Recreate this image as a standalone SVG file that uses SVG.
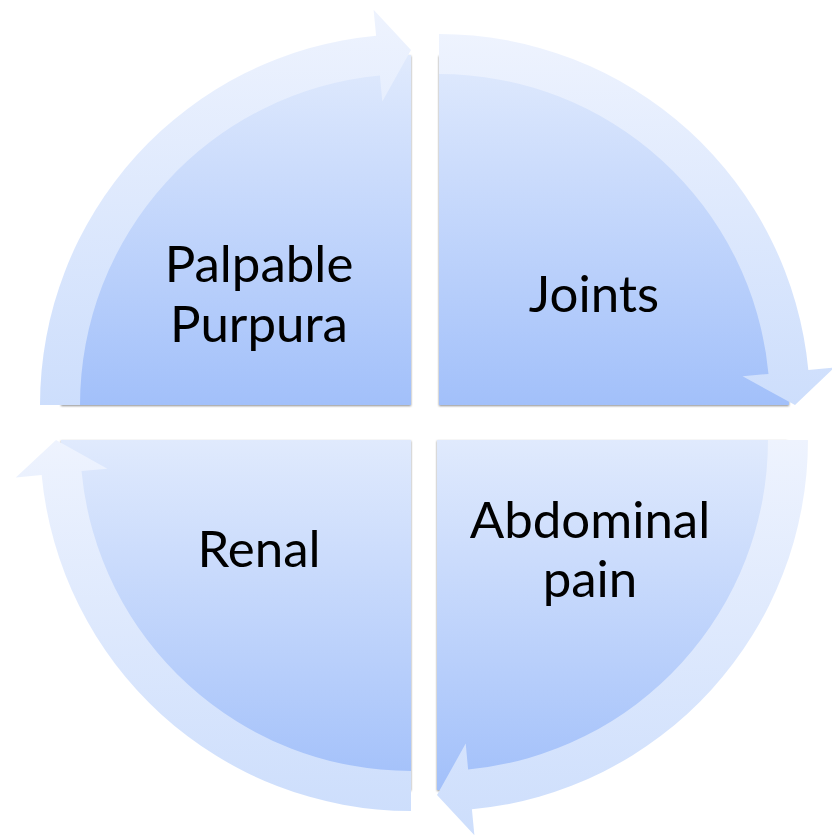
<svg xmlns="http://www.w3.org/2000/svg" width="832" height="835" viewBox="0 0 832 835">
  <defs>
    <linearGradient id="pieGrad" x1="0" y1="0" x2="0" y2="1">
      <stop offset="0" stop-color="#e0eafd"/>
      <stop offset="1" stop-color="#a2c0fa"/>
    </linearGradient>
    <linearGradient id="arrowGrad" x1="0" y1="0" x2="0" y2="1">
      <stop offset="0" stop-color="#eef3fe"/>
      <stop offset="1" stop-color="#cddefc"/>
    </linearGradient>
    <filter id="shadow" x="-5%" y="-5%" width="110%" height="110%">
      <feDropShadow dx="0" dy="1" stdDeviation="1" flood-color="#000000" flood-opacity="0.45"/>
    </filter>
  </defs>
  <style>
    .pie { fill: url(#pieGrad); filter: url(#shadow); }
    .arrow { fill: url(#arrowGrad); }
    .label { font-family: Lato, "Open Sans", "Liberation Sans", sans-serif; font-size: 51px; fill: #000000; text-anchor: middle; }
  </style>

  <g id="node-palpable-purpura">
    <path class="pie" d="M411,405 L61,405 A350,350 0 0 1 411,55 Z"/>
  </g>
  <g id="node-joints">
    <path class="pie" d="M439,405 L439,55 A350,350 0 0 1 789,405 Z"/>
  </g>
  <g id="node-abdominal-pain">
    <path class="pie" d="M437,440 L787,440 A350,350 0 0 1 437,790 Z"/>
  </g>
  <g id="node-renal">
    <path class="pie" d="M411,440 L411,790 A350,350 0 0 1 61,440 Z"/>
  </g>

  <g id="connectors">
    <path class="arrow" d="M40,405 A371,371 0 0 1 376.1,35.65 L373.6,9.8 L411,50 L382.3,101.4 L379.9,75.5 A331,331 0 0 0 80,405 Z"/>
    <path class="arrow" d="M439,34 A371,371 0 0 1 808.35,370.1 L834.2,367.6 L795,405 L742.6,376.3 L768.5,373.9 A331,331 0 0 0 439,74 Z"/>
    <path class="arrow" d="M808,440 A371,371 0 0 1 471.9,809.35 L474.4,835.2 L437,795 L465.7,743.6 L468.1,769.5 A331,331 0 0 0 768,440 Z"/>
    <path class="arrow" d="M411,811 A371,371 0 0 1 41.65,474.9 L15.8,477.4 L56,440 L107.4,468.7 L81.5,471.1 A331,331 0 0 0 411,771 Z"/>
  </g>

  <g id="labels">
    <text class="label" x="259" y="282">Palpable</text>
    <text class="label" x="259" y="342">Purpura</text>
    <text class="label" x="594" y="312">Joints</text>
    <text class="label" x="590" y="538">Abdominal</text>
    <text class="label" x="590" y="597">pain</text>
    <text class="label" x="259" y="567">Renal</text>
  </g>
</svg>
